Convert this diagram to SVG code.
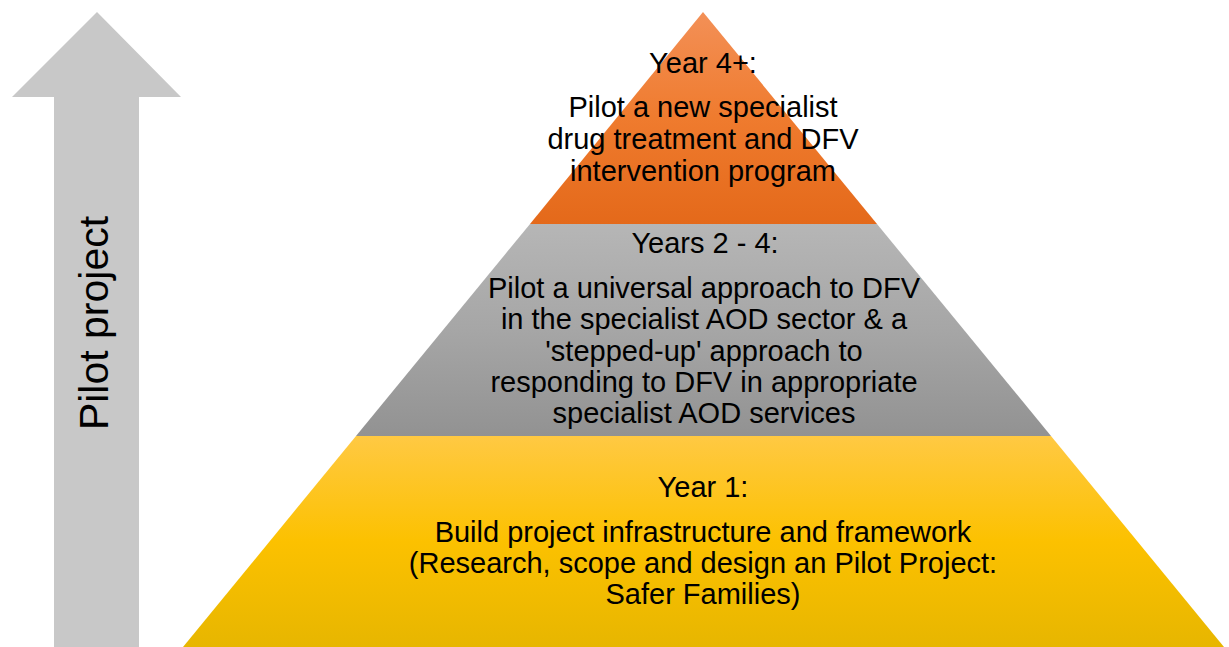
<svg xmlns="http://www.w3.org/2000/svg" width="1229" height="647" viewBox="0 0 1229 647">
<defs>
<linearGradient id="gOrange" x1="0" y1="0" x2="0" y2="1"><stop offset="0" stop-color="#F39057"/><stop offset="0.5" stop-color="#EF7B2E"/><stop offset="1" stop-color="#E4691A"/></linearGradient>
<linearGradient id="gGray" x1="0" y1="0" x2="0" y2="1"><stop offset="0" stop-color="#B6B6B6"/><stop offset="0.5" stop-color="#A6A6A6"/><stop offset="1" stop-color="#929292"/></linearGradient>
<linearGradient id="gYellow" x1="0" y1="0" x2="0" y2="1"><stop offset="0" stop-color="#FFC943"/><stop offset="0.5" stop-color="#FCC100"/><stop offset="1" stop-color="#E7B600"/></linearGradient>
</defs>
<style>
text{font-family:"Liberation Sans",Arial,Helvetica,sans-serif;fill:#000;text-anchor:middle}
.t{font-size:29px}
.side{font-size:41px}
</style>
<rect width="1229" height="647" fill="#FFFFFF"/>
<g id="arrow">
<polygon points="97,12 181,97 139,97 139,647 54,647 54,97 12,97" fill="#C8C8C8"/>
<text class="side" transform="translate(108,323) rotate(-90)" x="0" y="0">Pilot project</text>
</g>
<g id="tier-top">
<polygon points="703,12 877,224 530,224" fill="url(#gOrange)"/>
<text class="t" x="703" y="73">Year 4+:</text>
<text class="t" x="703" y="117">Pilot a new specialist</text>
<text class="t" x="703" y="149">drug treatment and DFV</text>
<text class="t" x="703" y="181">intervention program</text>
</g>
<g id="tier-middle">
<polygon points="530,224 877,224 1051,436 356,436" fill="url(#gGray)"/>
<text class="t" x="705" y="253">Years 2 - 4:</text>
<text class="t" x="704" y="298">Pilot a universal approach to DFV</text>
<text class="t" x="704" y="329">in the specialist AOD sector &amp; a</text>
<text class="t" x="704" y="361">'stepped-up' approach to</text>
<text class="t" x="704" y="392">responding to DFV in appropriate</text>
<text class="t" x="704" y="423">specialist AOD services</text>
</g>
<g id="tier-bottom">
<polygon points="356,436 1051,436 1224,647 183,647" fill="url(#gYellow)"/>
<text class="t" x="703" y="497">Year 1:</text>
<text class="t" x="703" y="542">Build project infrastructure and framework</text>
<text class="t" x="703" y="573">(Research, scope and design an Pilot Project:</text>
<text class="t" x="703" y="604">Safer Families)</text>
</g>
<g id="connectors"/>
</svg>
